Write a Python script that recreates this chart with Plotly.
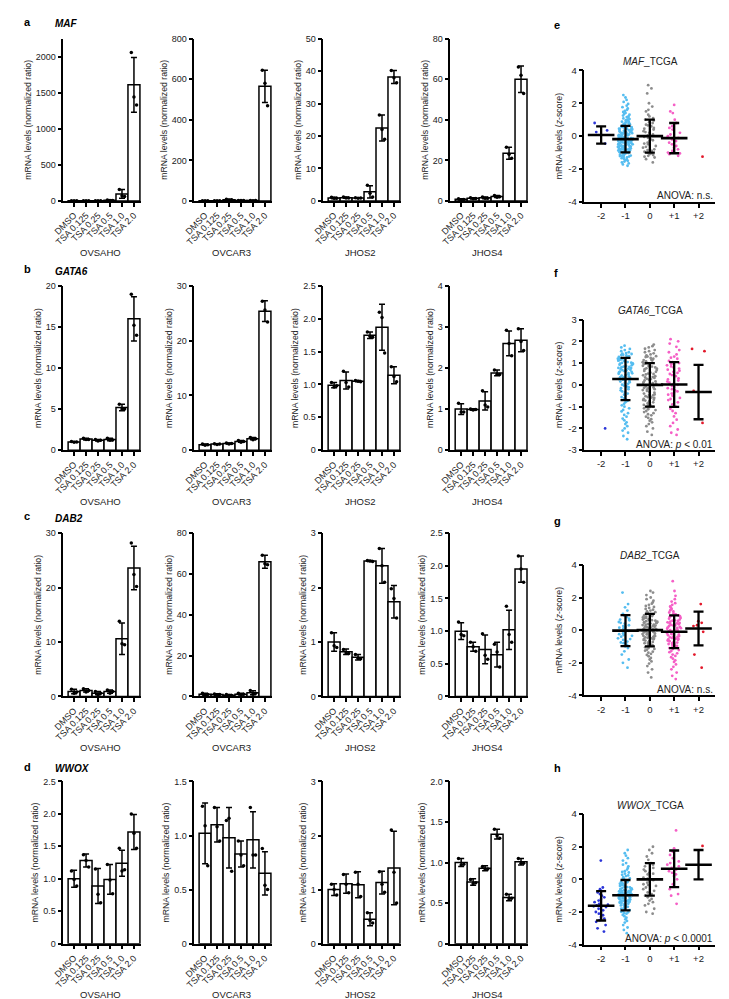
import plotly.graph_objects as go

# ---------------- data ----------------
CATEGORIES = ["DMSO", "TSA 0.125", "TSA 0.25", "TSA 0.5", "TSA 1.0", "TSA 2.0"]
CELL_LINES = ["OVSAHO", "OVCAR3", "JHOS2", "JHOS4"]
GENES = ["MAF", "GATA6", "DAB2", "WWOX"]
ZGROUPS = ["-2", "-1", "0", "+1", "+2"]

# MAF
MAF_OVSAHO_MEAN = [1, 2, 3, 8, 97, 1610]
MAF_OVSAHO_SD = [0.3, 0.5, 1, 4, 60, 380]
MAF_OVSAHO_PTS = [[1.1, 0.8, 1.1], [2.3, 1.6, 2.1], [3.5, 2.2, 3.3], [12, 5, 7], [160, 70, 62], [2060, 1440, 1330]]
MAF_OVCAR3_MEAN = [1, 1, 6, 2, 1.5, 565]
MAF_OVCAR3_SD = [0.3, 0.3, 2, 0.5, 0.4, 80]
MAF_OVCAR3_PTS = [[1.2, 0.8, 1], [1.1, 0.8, 1.1], [8, 4, 6], [2.4, 1.6, 2], [1.8, 1.1, 1.6], [645, 580, 470]]
MAF_JHOS2_MEAN = [0.9, 1.0, 0.9, 2.8, 22.5, 38.2]
MAF_JHOS2_SD = [0.2, 0.2, 0.1, 1.9, 4, 2]
MAF_JHOS2_PTS = [[1.1, 0.8, 0.8], [1.2, 0.9, 0.9], [1, 0.8, 0.9], [4.8, 2.4, 1.2], [26.5, 22, 19], [40.2, 38, 36.4]]
MAF_JHOS4_MEAN = [0.8, 1.3, 1.5, 2.2, 23.5, 60]
MAF_JHOS4_SD = [0.3, 0.3, 0.4, 0.5, 3, 6.5]
MAF_JHOS4_PTS = [[1.1, 0.6, 0.7], [1.6, 1.1, 1.2], [1.9, 1.3, 1.3], [2.7, 1.8, 2.1], [26.5, 23, 21], [66, 62, 53]]

# GATA6
GATA6_OVSAHO_MEAN = [1.0, 1.35, 1.2, 1.3, 5.2, 16.0]
GATA6_OVSAHO_SD = [0.05, 0.1, 0.1, 0.15, 0.4, 2.7]
GATA6_OVSAHO_PTS = [[1.05, 0.95, 1.0], [1.45, 1.3, 1.3], [1.3, 1.1, 1.2], [1.45, 1.2, 1.25], [5.6, 5.0, 5.0], [19.0, 15.2, 14.0]]
GATA6_OVCAR3_MEAN = [1.0, 1.1, 1.2, 1.6, 2.1, 25.4]
GATA6_OVCAR3_SD = [0.1, 0.05, 0.1, 0.15, 0.2, 1.9]
GATA6_OVCAR3_PTS = [[1.1, 0.9, 1.0], [1.15, 1.05, 1.1], [1.3, 1.1, 1.2], [1.75, 1.45, 1.6], [2.3, 1.9, 2.1], [27.2, 25.6, 23.4]]
GATA6_JHOS2_MEAN = [0.99, 1.06, 1.05, 1.75, 1.87, 1.14]
GATA6_JHOS2_SD = [0.04, 0.13, 0.01, 0.05, 0.35, 0.13]
GATA6_JHOS2_PTS = [[1.03, 0.96, 0.98], [1.2, 1.03, 0.96], [1.06, 1.05, 1.04], [1.8, 1.73, 1.72], [2.1, 2.02, 1.48], [1.27, 1.12, 1.04]]
GATA6_JHOS4_MEAN = [1.0, 0.99, 1.2, 1.88, 2.6, 2.68]
GATA6_JHOS4_SD = [0.13, 0.02, 0.22, 0.07, 0.3, 0.28]
GATA6_JHOS4_PTS = [[1.14, 0.93, 0.93], [1.0, 0.98, 0.99], [1.45, 1.1, 1.05], [1.95, 1.85, 1.84], [2.92, 2.6, 2.3], [2.96, 2.65, 2.43]]

# DAB2
DAB2_OVSAHO_MEAN = [0.9, 1.1, 0.6, 0.9, 10.6, 23.6]
DAB2_OVSAHO_SD = [0.4, 0.3, 0.3, 0.3, 2.9, 4.0]
DAB2_OVSAHO_PTS = [[1.3, 0.6, 0.8], [1.4, 0.8, 1.1], [0.9, 0.3, 0.6], [1.2, 0.6, 0.9], [13.8, 9.7, 9.5], [28.2, 22.4, 20.2]]
DAB2_OVCAR3_MEAN = [1.0, 0.9, 0.6, 1.1, 1.8, 66]
DAB2_OVCAR3_SD = [0.5, 0.4, 0.3, 0.4, 1.0, 3.2]
DAB2_OVCAR3_PTS = [[1.5, 0.6, 0.9], [1.2, 0.6, 0.9], [0.9, 0.4, 0.5], [1.5, 0.8, 1.0], [2.9, 1.0, 1.5], [69.2, 65, 64.5]]
DAB2_JHOS2_MEAN = [1.0, 0.82, 0.72, 2.49, 2.40, 1.74]
DAB2_JHOS2_SD = [0.17, 0.05, 0.05, 0.01, 0.32, 0.3]
DAB2_JHOS2_PTS = [[1.17, 0.93, 0.9], [0.86, 0.8, 0.79], [0.77, 0.7, 0.69], [2.5, 2.49, 2.48], [2.72, 2.4, 2.1], [1.98, 1.8, 1.44]]
DAB2_JHOS4_MEAN = [1.0, 0.76, 0.72, 0.64, 1.02, 1.95]
DAB2_JHOS4_SD = [0.13, 0.07, 0.22, 0.19, 0.3, 0.2]
DAB2_JHOS4_PTS = [[1.14, 0.95, 0.93], [0.83, 0.76, 0.69], [0.96, 0.63, 0.57], [0.8, 0.68, 0.45], [1.38, 0.95, 0.83], [2.15, 1.95, 1.75]]

# WWOX
WWOX_OVSAHO_MEAN = [1.0, 1.28, 0.89, 0.99, 1.24, 1.72]
WWOX_OVSAHO_SD = [0.13, 0.1, 0.27, 0.23, 0.2, 0.27]
WWOX_OVSAHO_PTS = [[1.12, 0.99, 0.89], [1.37, 1.28, 1.18], [1.15, 0.76, 0.63], [1.22, 0.98, 0.77], [1.47, 1.12, 1.14], [2.0, 1.7, 1.47]]
WWOX_OVCAR3_MEAN = [1.02, 1.10, 0.98, 0.83, 0.96, 0.65]
WWOX_OVCAR3_SD = [0.28, 0.16, 0.28, 0.12, 0.26, 0.2]
WWOX_OVCAR3_PTS = [[1.27, 1.09, 0.72], [1.26, 1.08, 0.95], [1.14, 1.16, 0.67], [0.95, 0.82, 0.72], [1.26, 0.82, 0.82], [0.88, 0.54, 0.5]]
WWOX_JHOS2_MEAN = [1.0, 1.11, 1.09, 0.45, 1.13, 1.40]
WWOX_JHOS2_SD = [0.11, 0.18, 0.24, 0.12, 0.21, 0.68]
WWOX_JHOS2_PTS = [[1.1, 1.0, 0.9], [1.28, 1.1, 0.94], [1.32, 1.1, 0.87], [0.57, 0.43, 0.38], [1.33, 1.1, 0.95], [2.1, 1.32, 0.75]]
WWOX_JHOS4_MEAN = [1.0, 0.76, 0.93, 1.35, 0.57, 1.01]
WWOX_JHOS4_SD = [0.05, 0.04, 0.03, 0.06, 0.04, 0.04]
WWOX_JHOS4_PTS = [[1.05, 0.97, 0.98], [0.79, 0.74, 0.75], [0.95, 0.92, 0.92], [1.41, 1.33, 1.3], [0.61, 0.55, 0.56], [1.05, 0.99, 0.99]]

# y-axis extents of the bar panels (max, tick step), per gene row / cell line column
BAR_YMAX = [[2250, 800, 50, 80], [20, 30, 2.5, 4], [30, 80, 3, 2.5], [2.5, 1.5, 3, 2]]
BAR_DTICK = [[500, 200, 10, 20], [5, 10, 0.5, 1], [10, 20, 1, 0.5], [0.5, 0.5, 1, 0.5]]

# TCGA z-scores by copy-number group
MAF_TCGA_M2 = [0.8, 0.35, 0.25, -0.45]
MAF_TCGA_M1 = [2.5, 2.35, 2.2, 2.08, 1.96, 1.85, 1.76, 1.68, 1.6, 1.53, 1.47, 1.41, 1.35, 1.3, 1.25, 1.2, 1.16,
               1.12, 1.08, 1.04, 1.0, 0.97, 0.94, 0.91, 0.88, 0.85, 0.82, 0.79, 0.76, 0.73, 0.7, 0.68, 0.65, 0.63,
               0.6, 0.58, 0.55, 0.53, 0.5, 0.48, 0.45, 0.43, 0.41, 0.38, 0.36, 0.34, 0.31, 0.29, 0.27, 0.25, 0.22,
               0.2, 0.18, 0.16, 0.14, 0.11, 0.09, 0.07, 0.05, 0.03, 0.01, -0.01, -0.03, -0.05, -0.08, -0.1, -0.12,
               -0.14, -0.16, -0.18, -0.2, -0.22, -0.24, -0.26, -0.28, -0.3, -0.32, -0.34, -0.36, -0.38, -0.4, -0.42,
               -0.44, -0.46, -0.48, -0.5, -0.52, -0.54, -0.56, -0.58, -0.6, -0.62, -0.64, -0.66, -0.68, -0.7, -0.72,
               -0.74, -0.76, -0.78, -0.8, -0.82, -0.84, -0.86, -0.88, -0.9, -0.92, -0.94, -0.96, -0.98, -1.0, -1.03,
               -1.06, -1.09, -1.12, -1.15, -1.18, -1.21, -1.24, -1.27, -1.3, -1.34, -1.38, -1.42, -1.46, -1.5, -1.55,
               -1.6, -1.66, -1.72, -1.8, 0.57, 0.32, 0.06, -0.17, -0.35, -0.51, -0.69, -0.85, -1.01, -1.2, -0.43,
               -0.61, -0.27, -0.79, 0.15, -0.95, 0.44, -0.09]
MAF_TCGA_0 = [3.1, 2.9, 2.6, 2.0, 1.8, 1.6, 1.5, 1.3, 1.2, 1.1, 1.0, 0.95, 0.85, 0.8, 0.7, 0.65, 0.6, 0.5, 0.45,
              0.4, 0.3, 0.25, 0.2, 0.1, 0.05, 0.0, -0.05, -0.1, -0.2, -0.25, -0.3, -0.4, -0.45, -0.5, -0.6, -0.65,
              -0.7, -0.8, -0.85, -0.9, -0.95, -1.0, -1.05, -1.1, -1.15, -1.2, -1.25, -1.3, -1.4, -1.6]
MAF_TCGA_P1 = [1.9, 1.5, 1.4, 1.0, 0.8, 0.75, 0.6, 0.5, 0.4, 0.2, 0.1, 0.0, -0.1, -0.2, -0.3, -0.4, -0.5, -0.6,
               -0.7, -0.8, -0.9, -1.0, -1.05, -1.1, -1.2]
MAF_TCGA_P2 = [-1.25]
MAF_TCGA_MEAN = [0.07, -0.18, 0.0, -0.12, None]
MAF_TCGA_SD = [0.52, 0.81, 1.0, 0.92, None]

GATA6_TCGA_M2 = [-2.0]
GATA6_TCGA_M1 = [1.8, 1.72, 1.65, 1.6, 1.55, 1.5, 1.46, 1.42, 1.38, 1.35, 1.32, 1.29, 1.26, 1.23, 1.2, 1.17, 1.14,
                 1.11, 1.08, 1.05, 1.02, 0.99, 0.96, 0.93, 0.9, 0.87, 0.84, 0.81, 0.78, 0.75, 0.72, 0.69, 0.66, 0.63,
                 0.6, 0.57, 0.54, 0.51, 0.48, 0.45, 0.42, 0.39, 0.36, 0.33, 0.3, 0.27, 0.24, 0.21, 0.18, 0.15, 0.12,
                 0.09, 0.05, 0.01, -0.03, -0.07, -0.11, -0.15, -0.2, -0.25, -0.3, -0.35, -0.4, -0.45, -0.5, -0.56,
                 -0.62, -0.68, -0.74, -0.8, -0.87, -0.94, -1.0, -1.08, -1.15, -1.22, -1.3, -1.38, -1.46, -1.55, -1.63,
                 -1.72, -1.8, -1.9, -2.0, -2.1, -2.2, -2.35, -2.5, 1.44, 1.28, 1.13, 0.98, 0.83, 0.68, 0.53, 1.37,
                 1.19, 1.01, 0.77, 0.61, 0.35]
GATA6_TCGA_0 = [1.85, 1.78, 1.72, 1.66, 1.6, 1.55, 1.5, 1.45, 1.4, 1.36, 1.32, 1.28, 1.24, 1.2, 1.16, 1.12, 1.08,
                1.04, 1.0, 0.96, 0.92, 0.88, 0.84, 0.8, 0.76, 0.72, 0.68, 0.64, 0.6, 0.56, 0.52, 0.48, 0.44, 0.4,
                0.36, 0.32, 0.28, 0.24, 0.2, 0.16, 0.12, 0.08, 0.04, 0.0, -0.04, -0.08, -0.12, -0.16, -0.2, -0.24,
                -0.28, -0.32, -0.36, -0.4, -0.44, -0.48, -0.52, -0.56, -0.6, -0.64, -0.68, -0.72, -0.76, -0.8, -0.84,
                -0.88, -0.92, -0.96, -1.0, -1.04, -1.08, -1.12, -1.16, -1.2, -1.25, -1.3, -1.35, -1.4, -1.46, -1.52,
                -1.58, -1.65, -1.72, -1.8, -1.9, -2.0, -2.15, -2.3, 1.14, 0.98, 0.74, 0.5, 0.26, 0.02, -0.22, -0.46,
                -0.7, -0.94, 1.3, 0.86, 0.34, -0.14, -0.58, -1.02]
GATA6_TCGA_P1 = [2.1, 2.0, 1.9, 1.75, 1.6, 1.5, 1.4, 1.3, 1.2, 1.1, 1.05, 1.0, 0.9, 0.85, 0.8, 0.7, 0.65, 0.6, 0.5,
                 0.45, 0.4, 0.3, 0.25, 0.2, 0.1, 0.05, 0.0, -0.05, -0.1, -0.2, -0.25, -0.3, -0.4, -0.45, -0.5, -0.6,
                 -0.7, -0.8, -0.9, -1.0, -1.1, -1.2, -1.3, -1.45, -1.6, -1.75, -1.9, -2.05, -2.2, -2.3, 0.95, 0.55,
                 0.15, -0.35, -0.65, 1.25, 0.75, -0.15]
GATA6_TCGA_P2 = [1.65, 1.55, -0.28, -1.75]
GATA6_TCGA_MEAN = [None, 0.27, 0.0, 0.02, -0.33]
GATA6_TCGA_SD = [None, 0.97, 1.0, 1.03, 1.25]

DAB2_TCGA_M2 = []
DAB2_TCGA_M1 = [2.3, 1.6, 1.4, 1.2, 1.0, 0.9, 0.8, 0.7, 0.6, 0.5, 0.45, 0.4, 0.3, 0.2, 0.15, 0.1, 0.0, -0.05, -0.1,
                -0.2, -0.25, -0.3, -0.4, -0.5, -0.55, -0.6, -0.7, -0.8, -0.9, -1.0, -1.1, -1.3, -1.5, -1.8, -2.0,
                -2.3, 0.65, 0.25, -0.35, -0.75]
DAB2_TCGA_0 = [2.4, 2.3, 2.15, 2.0, 1.9, 1.8, 1.7, 1.62, 1.55, 1.48, 1.42, 1.36, 1.3, 1.25, 1.2, 1.15, 1.1, 1.06,
               1.02, 0.98, 0.94, 0.9, 0.86, 0.82, 0.78, 0.75, 0.72, 0.68, 0.65, 0.62, 0.58, 0.55, 0.52, 0.49, 0.46,
               0.43, 0.4, 0.37, 0.34, 0.31, 0.28, 0.25, 0.22, 0.19, 0.16, 0.13, 0.1, 0.07, 0.04, 0.01, -0.02, -0.05,
               -0.08, -0.11, -0.14, -0.17, -0.2, -0.23, -0.26, -0.29, -0.32, -0.35, -0.38, -0.41, -0.44, -0.47, -0.5,
               -0.53, -0.56, -0.6, -0.64, -0.68, -0.72, -0.76, -0.8, -0.84, -0.88, -0.92, -0.96, -1.0, -1.05, -1.1,
               -1.15, -1.2, -1.26, -1.32, -1.38, -1.45, -1.52, -1.6, -1.7, -1.8, -1.92, -2.05, -2.2, -2.4, -2.6, -2.9,
               0.92, 0.61, 0.33, 0.05, -0.24, -0.51, -0.79, 0.77, 0.21, -0.37, 0.48, -0.09]
DAB2_TCGA_P1 = [3.0, 2.4, 2.1, 1.9, 1.75, 1.65, 1.55, 1.45, 1.38, 1.3, 1.22, 1.15, 1.08, 1.02, 0.96, 0.9, 0.85, 0.8,
                0.75, 0.7, 0.65, 0.6, 0.56, 0.52, 0.48, 0.44, 0.4, 0.36, 0.32, 0.28, 0.24, 0.2, 0.16, 0.12, 0.08,
                0.04, 0.0, -0.04, -0.08, -0.12, -0.16, -0.2, -0.24, -0.28, -0.32, -0.36, -0.4, -0.44, -0.48, -0.52,
                -0.56, -0.6, -0.64, -0.68, -0.72, -0.76, -0.8, -0.85, -0.9, -0.95, -1.0, -1.05, -1.1, -1.16, -1.22,
                -1.28, -1.35, -1.42, -1.5, -1.58, -1.66, -1.75, -1.85, -1.95, -2.1, -2.25, -2.4, -2.6, -2.8, -3.0,
                0.58, 0.3, 0.02, -0.26, -0.54, -0.82, 0.87, 0.14, -0.42, -0.97, 0.42, -0.1]
DAB2_TCGA_P2 = [1.6, 0.55, 0.45, 0.3, 0.25, -0.1, -1.5, -2.3]
DAB2_TCGA_MEAN = [None, -0.03, 0.0, -0.1, 0.1]
DAB2_TCGA_SD = [None, 0.95, 1.0, 1.0, 1.03]

WWOX_TCGA_M2 = [1.15, -0.5, -0.6, -0.7, -0.8, -0.9, -1.0, -1.1, -1.2, -1.3, -1.4, -1.5, -1.55, -1.6, -1.65, -1.7,
                -1.8, -1.9, -2.0, -2.1, -2.2, -2.3, -2.4, -2.5, -2.6, -2.8, -3.0, -3.2]
WWOX_TCGA_M1 = [1.8, 1.6, 1.45, 1.3, 1.15, 1.0, 0.9, 0.8, 0.7, 0.6, 0.5, 0.42, 0.35, 0.28, 0.2, 0.13, 0.06, 0.0,
                -0.06, -0.12, -0.18, -0.24, -0.3, -0.35, -0.4, -0.45, -0.5, -0.55, -0.6, -0.64, -0.68, -0.72, -0.76,
                -0.8, -0.84, -0.88, -0.92, -0.96, -1.0, -1.04, -1.08, -1.12, -1.16, -1.2, -1.24, -1.28, -1.32, -1.36,
                -1.4, -1.45, -1.5, -1.55, -1.6, -1.65, -1.7, -1.76, -1.82, -1.88, -1.95, -2.02, -2.1, -2.18, -2.26,
                -2.35, -2.45, -2.55, -2.65, -2.8, -2.95, -3.1, -3.3, 0.24, 0.03, -0.15, -0.33, -0.47, -0.62, -0.74,
                -0.86, -0.98, -1.1, -1.22, -1.34, -1.47, -1.62, -1.79, -1.99, -0.52, -0.78, -1.02, -1.26, -0.91,
                -1.14, -0.66, -1.39, -0.27, -1.57, -0.83, -1.07, -0.58, -1.31, -0.95, -1.18, -0.7, -1.43, -0.39,
                -1.68, -2.07, -0.1, 0.45, -1.0, -0.87]
WWOX_TCGA_0 = [2.0, 1.8, 1.6, 1.4, 1.2, 1.0, 0.9, 0.8, 0.7, 0.6, 0.5, 0.4, 0.3, 0.2, 0.1, 0.05, 0.0, -0.05, -0.1,
               -0.2, -0.3, -0.4, -0.5, -0.6, -0.7, -0.8, -0.9, -1.0, -1.1, -1.2, -1.3, -1.4, -1.5, -1.6, -1.8, -2.0,
               -2.1, 0.35, -0.35]
WWOX_TCGA_P1 = [3.0, 1.9, 1.7, 1.5, 1.3, 1.1, 1.0, 0.9, 0.8, 0.7, 0.6, 0.5, 0.4, 0.3, 0.2, 0.0, -0.3, -0.6, -0.9,
                -1.0, -1.5]
WWOX_TCGA_P2 = [2.05]
WWOX_TCGA_MEAN = [-1.62, -0.97, 0.0, 0.65, 0.9]
WWOX_TCGA_SD = [0.9, 0.93, 1.0, 1.12, 0.9]

TCGA_YRANGE = [(-4, 4, 2), (-3, 3, 1), (-4, 4, 2), (-4, 4, 2)]
ANOVA_TEXT = ["ANOVA: n.s.", "ANOVA: <i>p</i> < 0.01", "ANOVA: n.s.", "ANOVA: <i>p</i> < 0.0001"]
PANEL_LETTERS = ["a", "b", "c", "d"]
TCGA_LETTERS = ["e", "f", "g", "h"]

# ---------------- assembly ----------------
BARS = {
    ("MAF", "OVSAHO"): (MAF_OVSAHO_MEAN, MAF_OVSAHO_SD, MAF_OVSAHO_PTS),
    ("MAF", "OVCAR3"): (MAF_OVCAR3_MEAN, MAF_OVCAR3_SD, MAF_OVCAR3_PTS),
    ("MAF", "JHOS2"): (MAF_JHOS2_MEAN, MAF_JHOS2_SD, MAF_JHOS2_PTS),
    ("MAF", "JHOS4"): (MAF_JHOS4_MEAN, MAF_JHOS4_SD, MAF_JHOS4_PTS),
    ("GATA6", "OVSAHO"): (GATA6_OVSAHO_MEAN, GATA6_OVSAHO_SD, GATA6_OVSAHO_PTS),
    ("GATA6", "OVCAR3"): (GATA6_OVCAR3_MEAN, GATA6_OVCAR3_SD, GATA6_OVCAR3_PTS),
    ("GATA6", "JHOS2"): (GATA6_JHOS2_MEAN, GATA6_JHOS2_SD, GATA6_JHOS2_PTS),
    ("GATA6", "JHOS4"): (GATA6_JHOS4_MEAN, GATA6_JHOS4_SD, GATA6_JHOS4_PTS),
    ("DAB2", "OVSAHO"): (DAB2_OVSAHO_MEAN, DAB2_OVSAHO_SD, DAB2_OVSAHO_PTS),
    ("DAB2", "OVCAR3"): (DAB2_OVCAR3_MEAN, DAB2_OVCAR3_SD, DAB2_OVCAR3_PTS),
    ("DAB2", "JHOS2"): (DAB2_JHOS2_MEAN, DAB2_JHOS2_SD, DAB2_JHOS2_PTS),
    ("DAB2", "JHOS4"): (DAB2_JHOS4_MEAN, DAB2_JHOS4_SD, DAB2_JHOS4_PTS),
    ("WWOX", "OVSAHO"): (WWOX_OVSAHO_MEAN, WWOX_OVSAHO_SD, WWOX_OVSAHO_PTS),
    ("WWOX", "OVCAR3"): (WWOX_OVCAR3_MEAN, WWOX_OVCAR3_SD, WWOX_OVCAR3_PTS),
    ("WWOX", "JHOS2"): (WWOX_JHOS2_MEAN, WWOX_JHOS2_SD, WWOX_JHOS2_PTS),
    ("WWOX", "JHOS4"): (WWOX_JHOS4_MEAN, WWOX_JHOS4_SD, WWOX_JHOS4_PTS),
}
TCGA = {
    "MAF": ([MAF_TCGA_M2, MAF_TCGA_M1, MAF_TCGA_0, MAF_TCGA_P1, MAF_TCGA_P2], MAF_TCGA_MEAN, MAF_TCGA_SD),
    "GATA6": ([GATA6_TCGA_M2, GATA6_TCGA_M1, GATA6_TCGA_0, GATA6_TCGA_P1, GATA6_TCGA_P2], GATA6_TCGA_MEAN, GATA6_TCGA_SD),
    "DAB2": ([DAB2_TCGA_M2, DAB2_TCGA_M1, DAB2_TCGA_0, DAB2_TCGA_P1, DAB2_TCGA_P2], DAB2_TCGA_MEAN, DAB2_TCGA_SD),
    "WWOX": ([WWOX_TCGA_M2, WWOX_TCGA_M1, WWOX_TCGA_0, WWOX_TCGA_P1, WWOX_TCGA_P2], WWOX_TCGA_MEAN, WWOX_TCGA_SD),
}

# ---------------- layout / style ----------------
W, H = 729, 999
FONT = "Arial, 'Liberation Sans', sans-serif"
COL_X = [45, 178, 309, 438]
COL_W = 79
ROW_Y = [(25, 189), (275, 441), (525, 690), (776, 940)]
COL_LABEL_Y = [241, 493, 742, 991]
LETTER_Y = [8, 258, 508, 761]
SC_X = (574, 707)
SC_ROW_Y = [(57, 190), (309, 441), (557, 689), (809, 941)]
SC_LETTER_Y = [11, 262, 513, 762]
PT_OFFSETS = [-0.22, 0.0, 0.22]
GROUP_COLORS = ["#2b35d8", "#55bdf0", "#8c8c8c", "#f55fc6", "#e3192b"]
LINE_W = 1.5

fig = go.Figure()
axes = {}
annotations = []
count = [0]


def new_axes(x0, x1, y0, y1, xcfg, ycfg):
    count[0] += 1
    k = count[0]
    s = "" if k == 1 else str(k)
    axes["xaxis" + s] = dict(domain=[x0 / W, x1 / W], anchor="y" + s, **xcfg)
    axes["yaxis" + s] = dict(domain=[1 - y1 / H, 1 - y0 / H], anchor="x" + s, **ycfg)
    return "x" + s, "y" + s


def fmt(v, step):
    if v == 0:
        return "0"
    if float(step).is_integer() and float(v).is_integer():
        return str(int(v))
    return f"{v:.1f}"


base_axis = dict(showline=True, linecolor="black", linewidth=LINE_W, ticks="outside", ticklen=4,
                 tickwidth=LINE_W, tickcolor="black", showgrid=False, zeroline=False, fixedrange=True,
                 tickfont=dict(family=FONT, size=9, color="#222"))

for r, gene in enumerate(GENES):
    y0, y1 = ROW_Y[r]
    annotations.append(dict(text="<b>" + PANEL_LETTERS[r] + "</b>", x=3 / W, y=1 - LETTER_Y[r] / H, xref="paper",
                            yref="paper", xanchor="left", yanchor="middle", showarrow=False,
                            font=dict(family=FONT, size=11, color="black")))
    annotations.append(dict(text="<b><i>" + gene + "</i></b>", x=35 / W, y=1 - (LETTER_Y[r] + 2) / H, xref="paper",
                            yref="paper", xanchor="left", yanchor="middle", showarrow=False,
                            font=dict(family=FONT, size=10, color="black")))
    for c, cell in enumerate(CELL_LINES):
        mean, sd, pts = BARS[(gene, cell)]
        ymax, dt = BAR_YMAX[r][c], BAR_DTICK[r][c]
        tv = []
        v = 0.0
        while v <= ymax + 1e-9:
            tv.append(round(v, 6))
            v += dt
        x0 = COL_X[c]
        xcfg = dict(base_axis, range=[-0.9, 5.6], tickvals=list(range(len(CATEGORIES))), ticktext=CATEGORIES,
                    tickangle=-45)
        ycfg = dict(base_axis, range=[0, ymax], tickvals=tv, ticktext=[fmt(t, dt) for t in tv],
                    title=dict(text="mRNA levels (normalized ratio)", standoff=3,
                               font=dict(family=FONT, size=8.7, color="#222")))
        xa, ya = new_axes(x0, x0 + COL_W, y0, y1, xcfg, ycfg)
        fig.add_trace(go.Bar(x=list(range(len(CATEGORIES))), y=mean, width=1.0, xaxis=xa, yaxis=ya,
                             marker=dict(color="white", line=dict(color="black", width=LINE_W)),
                             error_y=dict(type="data", array=sd, visible=True, color="black",
                                          thickness=LINE_W, width=3),
                             showlegend=False, hoverinfo="skip"))
        px_, py_ = [], []
        for i, trip in enumerate(pts):
            for j, val in enumerate(trip):
                px_.append(i + PT_OFFSETS[j])
                py_.append(val)
        fig.add_trace(go.Scatter(x=px_, y=py_, mode="markers", xaxis=xa, yaxis=ya, cliponaxis=False,
                                 marker=dict(color="black", size=3.5), showlegend=False, hoverinfo="skip"))
        annotations.append(dict(text=cell, x=(x0 + 38) / W, y=1 - COL_LABEL_Y[r] / H, xref="paper", yref="paper",
                                xanchor="center", yanchor="middle", showarrow=False,
                                font=dict(family=FONT, size=9.5, color="#222")))

    # TCGA scatter panel
    groups, gmean, gsd = TCGA[gene]
    ylo, yhi, ydt = TCGA_YRANGE[r]
    sy0, sy1 = SC_ROW_Y[r]
    tv = list(range(ylo, yhi + 1, ydt))
    xcfg = dict(base_axis, range=[-0.69, 4.69], tickvals=list(range(5)), ticktext=ZGROUPS,
                tickfont=dict(family=FONT, size=9.5, color="#222"))
    ycfg = dict(base_axis, range=[ylo, yhi], tickvals=tv, ticktext=[str(t) for t in tv],
                tickfont=dict(family=FONT, size=9.5, color="#222"),
                title=dict(text="mRNA levels (<i>z</i>-score)", standoff=4,
                           font=dict(family=FONT, size=8.7, color="#222")))
    xa, ya = new_axes(SC_X[0], SC_X[1], sy0, sy1, xcfg, ycfg)
    for g, vals in enumerate(groups):
        if not vals:
            continue
        fig.add_trace(go.Box(x=[g] * len(vals), y=vals, xaxis=xa, yaxis=ya, boxpoints="all", jitter=0.9,
                             pointpos=0, width=0.7, fillcolor="rgba(0,0,0,0)",
                             line=dict(color="rgba(0,0,0,0)", width=0),
                             marker=dict(color=GROUP_COLORS[g], size=2.8), showlegend=False, hoverinfo="skip"))
    mx = [g for g in range(5) if gmean[g] is not None]
    fig.add_trace(go.Scatter(x=mx, y=[gmean[g] for g in mx], mode="markers", xaxis=xa, yaxis=ya,
                             marker=dict(symbol="line-ew", size=19, color="black",
                                         line=dict(color="black", width=2.6)),
                             error_y=dict(type="data", array=[gsd[g] for g in mx], visible=True, color="black",
                                          thickness=2.3, width=5),
                             showlegend=False, hoverinfo="skip"))
    annotations.append(dict(text="<b>" + TCGA_LETTERS[r] + "</b>", x=541 / W, y=1 - SC_LETTER_Y[r] / H,
                            xref="paper", yref="paper", xanchor="left", yanchor="middle", showarrow=False,
                            font=dict(family=FONT, size=11, color="black")))
    annotations.append(dict(text="<i>" + gene + "</i>_TCGA", x=641 / W, y=1 - (sy0 - 9) / H, xref="paper",
                            yref="paper", xanchor="center", yanchor="middle", showarrow=False,
                            font=dict(family=FONT, size=10, color="#222")))
    annotations.append(dict(text=ANOVA_TEXT[r], x=SC_X[1] / W, y=1 - (sy1 - 6) / H, xref="paper", yref="paper",
                            xanchor="right", yanchor="middle", showarrow=False,
                            font=dict(family=FONT, size=10, color="#222")))

fig.update_layout(width=W, height=H, margin=dict(l=0, r=0, t=0, b=0), plot_bgcolor="white",
                  paper_bgcolor="white", showlegend=False, annotations=annotations, boxmode="overlay",
                  **axes)
fig.write_html("out.html")
